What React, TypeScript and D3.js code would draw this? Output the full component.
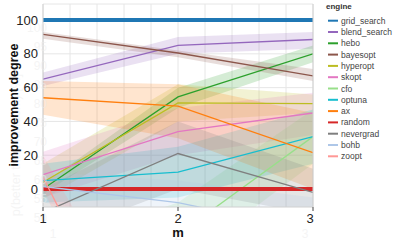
import React from "react";
import * as d3 from "d3";

const xValues = [1, 2, 3];
const engines = ["grid_search","blend_search","hebo","bayesopt","hyperopt","skopt","cfo","optuna","ax","random","nevergrad","bohb","zoopt"];
const colors = ["#1f77b4","#9467bd","#2ca02c","#8c564b","#bcbd22","#e377c2","#98df8a","#17becf","#ff7f0e","#d62728","#7f7f7f","#aec7e8","#ff9896"];
const means: number[][] = [
  [100, 100, 100],
  [65, 85, 88.5],
  [0, 54.5, 80],
  [91.5, 80.5, 67],
  [4, 51, 50.5],
  [8.5, 34, 45],
  [-60, -27, 31],
  [5, 10, 31],
  [54, 49, 21.5],
  [0, 0, 0],
  [-14, 21, -2],
  [1.5, -8, -25],
  [7, -150, -120],
];
const lowers: number[][] = [
  [100, 100, 100],
  [61, 80, 83],
  [-3, 48, 75],
  [89, 78, 64],
  [-6, 40, 45],
  [-5, 20, 32],
  [-85, -45, 15],
  [-8, -5, 15],
  [44, 30, 0],
  [0, 0, 0],
  [-30, 0, -15],
  [-8, -20, -40],
  [0, -170, -140],
];
const uppers: number[][] = [
  [100, 100, 100],
  [69, 90, 93],
  [3, 60, 85],
  [93, 82, 71],
  [15, 62, 56],
  [22, 48, 57],
  [-35, -8, 47],
  [15, 25, 47],
  [64, 62, 45],
  [0, 0, 0],
  [0, 40, 12],
  [10, 5, -5],
  [20, -120, -95],
];
const yTicks = [0, 20, 40, 60, 80, 100];
const xTicks = [1, 2, 3];
const ghostYTicks = [100, 95, 90, 85, 80, 75, 70, 65, 60, 55, 50];

const W = 395, H = 242;
const L = 43, R = 313, T = 4, B = 207;
const font = "'Liberation Sans', Arial, sans-serif";

export default function App() {
  const x = d3.scaleLinear().domain([1, 3]).range([L, R]);
  const y = d3.scaleLinear().domain([-10.65, 109.5]).range([B, T]);
  const gy = d3.scaleLinear().domain([50, 100]).range([217, 27]);
  const line = d3.line<[number, number]>().x(d => x(d[0])).y(d => y(d[1]));
  const area = d3.area<number>().x((_, i) => x(xValues[i]));
  const vGrid = d3.range(1, 3.0001, 0.2);
  return (
    <svg width={W} height={H} style={{ position: "absolute", left: 0, top: 0 }}>
      <defs>
        <clipPath id="pc"><rect x={L} y={T} width={R - L} height={B - T} /></clipPath>
      </defs>
      <rect x={0} y={0} width={W} height={H} fill="#fff" />
      {vGrid.map((v, i) => (
        <line key={"vg" + i} x1={x(v)} x2={x(v)} y1={T} y2={B} stroke="#e6e6e6" strokeWidth={1} />
      ))}
      {yTicks.map(v => (
        <line key={"hg" + v} x1={L} x2={R} y1={y(v)} y2={y(v)} stroke="#e6e6e6" strokeWidth={1} />
      ))}
      <line x1={L} x2={R} y1={T} y2={T} stroke="#e6e6e6" />
      <g clipPath="url(#pc)">
        {engines.map((e, k) => (
          <path key={"b" + e}
            d={area.y0((_, i) => y(lowers[k][i])).y1((_, i) => y(uppers[k][i]))(xValues) || ""}
            fill={colors[k]} fillOpacity={0.2} stroke="none" />
        ))}
        {engines.map((e, k) => (
          <path key={"l" + e}
            d={line(xValues.map((v, i) => [v, means[k][i]] as [number, number])) || ""}
            fill="none" stroke={colors[k]}
            strokeWidth={e === "grid_search" || e === "random" ? 4 : 1.3} />
        ))}
      </g>
      <line x1={L} x2={L} y1={T} y2={B} stroke="#d0d0d0" />
      <line x1={R} x2={R} y1={T} y2={B} stroke="#d0d0d0" />
      <line x1={L} x2={R} y1={B} y2={B} stroke="#d0d0d0" />
      {/* faint ghost overlay */}
      <g fill="#ececec" fillOpacity={0.55} fontFamily={font}>
        {ghostYTicks.map(v => (
          <text key={"g" + v} x={47} y={gy(v) + 5} textAnchor="end" fontSize={12}>{v}</text>
        ))}
        <text x={53} y={238} textAnchor="middle" fontSize={12}>1</text>
        <text x={178} y={240} textAnchor="middle" fontSize={12}>2</text>
        <text x={305} y={238} textAnchor="middle" fontSize={12}>3</text>
        <text transform="translate(20,145) rotate(-90)" textAnchor="middle" fontSize={12.5}>p(better than random) [%]</text>
      </g>
      {xTicks.map(v => (
        <g key={"xt" + v}>
          <line x1={x(v)} x2={x(v)} y1={B} y2={B + 4} stroke="#444" />
          <text x={v === 3 ? x(v) - 3 : x(v)} y={223} textAnchor="middle" fontSize={13} fontFamily={font} fill="#222">{v}</text>
        </g>
      ))}
      {yTicks.map(v => (
        <text key={"yt" + v} x={38} y={y(v) + 4.5} textAnchor="end" fontSize={13} fontFamily={font} fill="#222">{v}</text>
      ))}
      <text x={178} y={237} textAnchor="middle" fontSize={13} fontWeight="bold" fontFamily={font} fill="#111">m</text>
      <text transform="translate(18,105) rotate(-90)" textAnchor="middle" fontSize={12.5} fontWeight="bold" fontFamily={font} fill="#111">improvement degree</text>
      <text x={326} y={9} fontSize={8} fontWeight="bold" fontFamily={font} fill="#333">engine</text>
      {engines.map((e, k) => (
        <g key={"lg" + e} transform={`translate(0,${20.7 + k * 11.3})`}>
          <line x1={328} x2={338} y1={0} y2={0} stroke={colors[k]} strokeWidth={2} />
          <text x={341} y={3} fontSize={8.5} fontFamily={font} fill="#444">{e}</text>
        </g>
      ))}
    </svg>
  );
}
